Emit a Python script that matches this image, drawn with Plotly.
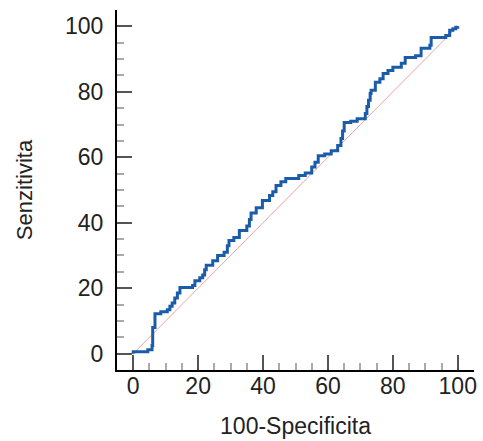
import plotly.graph_objects as go

# ROC curve vertices (100-Specificity, Sensitivity), step-wise
fpr = [0, 0, 4.5, 5.8, 6.0, 6.7, 8.5, 10.5, 11.3, 12.0, 12.8, 13.6, 14.4, 18.3, 19.0,
       20.5, 21.4, 22.0, 22.5, 24.5, 26.0, 28.0, 29.0, 29.5, 31.0, 32.7, 35.0, 35.8,
       36.3, 37.9, 39.8, 42.0, 43.0, 44.0, 45.5, 47.0, 51.0, 53.0, 55.0, 56.0, 57.0,
       59.0, 61.0, 63.0, 64.0, 64.5, 65.0, 67.0, 69.0, 71.5, 72.0, 72.5, 73.0, 73.3,
       74.6, 76.0, 77.0, 78.5, 80.0, 82.6, 83.8, 87.0, 88.7, 91.4, 91.8, 96.3, 97.5,
       98.5, 99.4, 100]
tpr = [0, 0.6, 1.2, 2.5, 8.0, 12.2, 12.8, 13.4, 14.5, 15.5, 17.0, 18.5, 20.2, 20.8, 22.3,
       23.2, 24.0, 25.6, 27.0, 28.4, 30.0, 31.0, 33.0, 34.6, 35.5, 37.6, 39.0, 41.0,
       43.0, 44.6, 46.8, 48.3, 49.5, 51.4, 52.5, 53.5, 54.4, 55.2, 57.0, 58.5, 60.5,
       61.0, 62.0, 63.6, 65.7, 68.0, 70.6, 71.0, 71.8, 73.4, 75.5, 77.4, 79.5, 80.5,
       82.9, 84.0, 85.6, 86.5, 87.5, 88.7, 90.5, 91.0, 93.3, 94.2, 96.6, 97.2, 98.8,
       99.3, 99.7, 100]
diag = [0, 100]
tick_vals = [0, 20, 40, 60, 80, 100]

fig = go.Figure()
fig.add_trace(go.Scatter(x=diag, y=diag, mode="lines",
                         line=dict(color="#e9a5a5", width=1), hoverinfo="skip"))
fig.add_trace(go.Scatter(x=fpr, y=tpr, mode="lines", line_shape="hv",
                         line=dict(color="#1a5ca8", width=3)))

font = "Liberation Sans, Arial, sans-serif"
axis_common = dict(
    range=[-5, 105], tickvals=tick_vals, ticks="inside", ticklen=15, tickwidth=2,
    tickcolor="#555555", showline=True, linecolor="black", linewidth=2,
    showgrid=False, zeroline=False,
    minor=dict(dtick=5, tick0=0, ticks="inside", ticklen=7, tickwidth=1.5,
               tickcolor="#aaaaaa", showgrid=False),
    tickfont=dict(family=font, size=23, color="#222222"),
)
fig.update_xaxes(**axis_common, ticklabelstandoff=-6,
                 title=dict(text="100-Specificita", font=dict(family=font, size=23, color="#222222"),
                            standoff=20))
fig.update_yaxes(**axis_common, ticklabelstandoff=7,
                 title=dict(text="Senzitivita", font=dict(family=font, size=22, color="#222222"),
                            standoff=26))
fig.update_layout(width=483, height=441, showlegend=False,
                  margin=dict(l=117, r=6, t=10, b=71),
                  plot_bgcolor="white", paper_bgcolor="white")
fig.write_html("out.html")
